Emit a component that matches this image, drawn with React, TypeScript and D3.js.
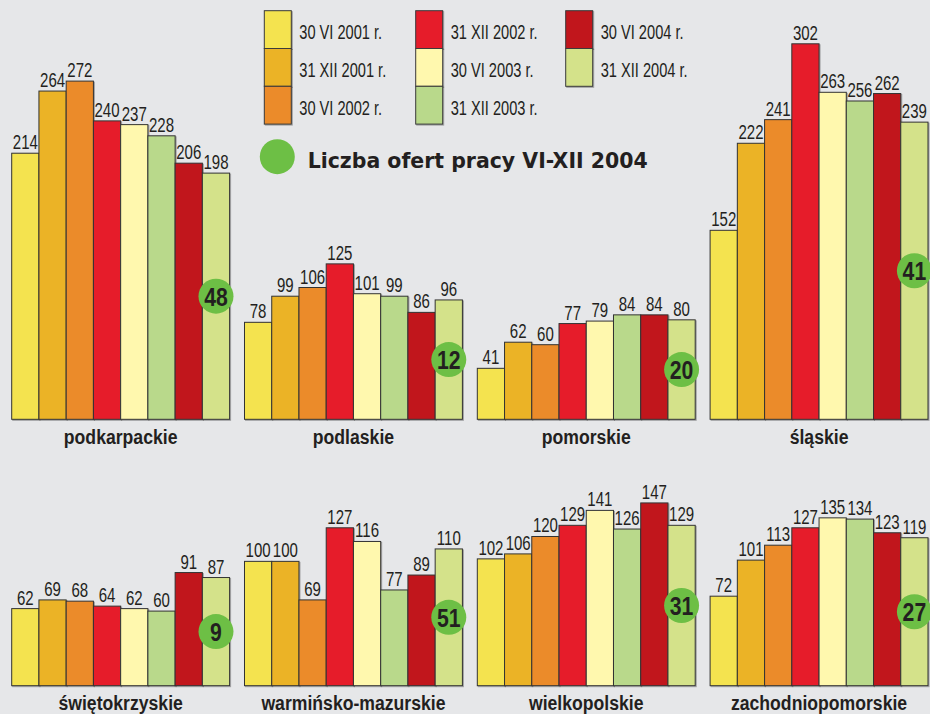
import React from "react";
import * as d3 from "d3";

const seriesLabels = [
  "30 VI 2001 r.",
  "31 XII 2001 r.",
  "30 VI 2002 r.",
  "31 XII 2002 r.",
  "30 VI 2003 r.",
  "31 XII 2003 r.",
  "30 VI 2004 r.",
  "31 XII 2004 r.",
];
const seriesColors = [
  "#f4e350",
  "#ebb326",
  "#eb8b29",
  "#e61e2b",
  "#fff8ae",
  "#b9d98b",
  "#c1151d",
  "#d4e28a",
];

const regions = [
  "podkarpackie",
  "podlaskie",
  "pomorskie",
  "śląskie",
  "świętokrzyskie",
  "warmińsko-mazurskie",
  "wielkopolskie",
  "zachodniopomorskie",
];

const podkarpackie = [214, 264, 272, 240, 237, 228, 206, 198];
const podlaskie = [78, 99, 106, 125, 101, 99, 86, 96];
const pomorskie = [41, 62, 60, 77, 79, 84, 84, 80];
const slaskie = [152, 222, 241, 302, 263, 256, 262, 239];
const swietokrzyskie = [62, 69, 68, 64, 62, 60, 91, 87];
const warminsko = [100, 100, 69, 127, 116, 77, 89, 110];
const wielkopolskie = [102, 106, 120, 129, 141, 126, 147, 129];
const zachodniopomorskie = [72, 101, 113, 127, 135, 134, 123, 119];

const regionValues = [
  podkarpackie,
  podlaskie,
  pomorskie,
  slaskie,
  swietokrzyskie,
  warminsko,
  wielkopolskie,
  zachodniopomorskie,
];

const jobOffers = [48, 12, 20, 41, 9, 51, 31, 27];
const legendTitle = "Liczba ofert pracy VI-XII 2004";

const W = 930;
const H = 714;
const sans = "'Liberation Sans', Arial, sans-serif";
const textColor = "#231f20";

type NTProps = {
  x: number;
  y: number;
  sx: number;
  size: number;
  bold?: boolean;
  anchor?: "start" | "middle" | "end";
  children: React.ReactNode;
};

function NText({ x, y, sx, size, bold, anchor = "start", children }: NTProps) {
  return (
    <text
      transform={`translate(${x},${y}) scale(${sx},1)`}
      textAnchor={anchor}
      fontFamily={sans}
      fontWeight={bold ? "bold" : "normal"}
      fontSize={size}
      fill={textColor}
    >
      {children}
    </text>
  );
}

export default function App() {
  const colScale = d3
    .scaleBand<number>()
    .domain([0, 1, 2, 3])
    .range([11.7, 928])
    .paddingInner(0.064)
    .paddingOuter(0);
  const rowBaselines = [419.3, 685.7];
  const barScale = d3
    .scaleBand<number>()
    .domain(d3.range(8))
    .range([0, colScale.bandwidth()])
    .padding(0);
  const hScale = d3.scaleLinear().domain([0, 302]).range([0, 375.5]);

  const legendCols = [264.3, 415.7, 565.7];
  const swatchW = 27;
  const swatchH = 37.8;
  const legendTop = 10.7;

  return (
    <div style={{ position: "absolute", left: 0, top: 0 }}>
      <svg width={W} height={H} style={{ display: "block" }}>
        <rect x={0} y={0} width={W} height={H} fill="#e6e7e9" />
        <defs>
          <filter id="sh" x="-10%" y="-10%" width="130%" height="130%">
            <feDropShadow dx="1" dy="1" stdDeviation="0.6" floodColor="#000" floodOpacity="0.3" />
          </filter>
        </defs>

        {/* Legend */}
        {seriesLabels.map((lab, i) => {
          const col = Math.floor(i / 3);
          const row = i % 3;
          const x = legendCols[col];
          const y = legendTop + row * swatchH;
          return (
            <g key={lab}>
              <rect
                x={x}
                y={y}
                width={swatchW}
                height={swatchH}
                fill={seriesColors[i]}
                stroke="#3a3a3a"
                strokeWidth={1}
                filter="url(#sh)"
              />
              <NText x={x + 35} y={y + 28.5} sx={0.75} size={19.5}>
                {lab}
              </NText>
            </g>
          );
        })}
        <circle cx={277.3} cy={156.7} r={17.5} fill="#6dbf45" />
        <text
          x={307.7}
          y={168.3}
          fontFamily="'DejaVu Sans', sans-serif"
          fontWeight="bold"
          fontSize={21}
          textLength={340}
          lengthAdjust="spacingAndGlyphs"
          fill={textColor}
        >
          {legendTitle}
        </text>

        {/* Panels */}
        {regions.map((name, r) => {
          const col = r % 4;
          const row = Math.floor(r / 4);
          const x0 = colScale(col) as number;
          const base = rowBaselines[row];
          const vals = regionValues[r];
          const last = vals[vals.length - 1];
          const lastX = x0 + (barScale(7) as number) + barScale.bandwidth() / 2;
          const cy = base - hScale(last / 2);
          return (
            <g key={name}>
              {vals.map((v, i) => {
                const bx = x0 + (barScale(i) as number);
                const h = hScale(v);
                return (
                  <g key={i}>
                    <rect
                      x={bx}
                      y={base - h}
                      width={barScale.bandwidth()}
                      height={h}
                      fill={seriesColors[i]}
                      stroke="#333"
                      strokeWidth={1}
                      filter="url(#sh)"
                    />
                    <NText
                      x={bx + barScale.bandwidth() / 2}
                      y={base - h - 4}
                      sx={0.77}
                      size={19.5}
                      anchor="middle"
                    >
                      {v}
                    </NText>
                  </g>
                );
              })}
              <circle cx={lastX} cy={cy} r={17.5} fill="#6dbf45" />
              <NText x={lastX} y={cy + 9.5} sx={0.8} size={26.5} bold anchor="middle">
                {jobOffers[r]}
              </NText>
              <NText
                x={x0 + colScale.bandwidth() / 2}
                y={base + 24.5}
                sx={0.86}
                size={20.5}
                bold
                anchor="middle"
              >
                {name}
              </NText>
            </g>
          );
        })}
      </svg>
    </div>
  );
}
